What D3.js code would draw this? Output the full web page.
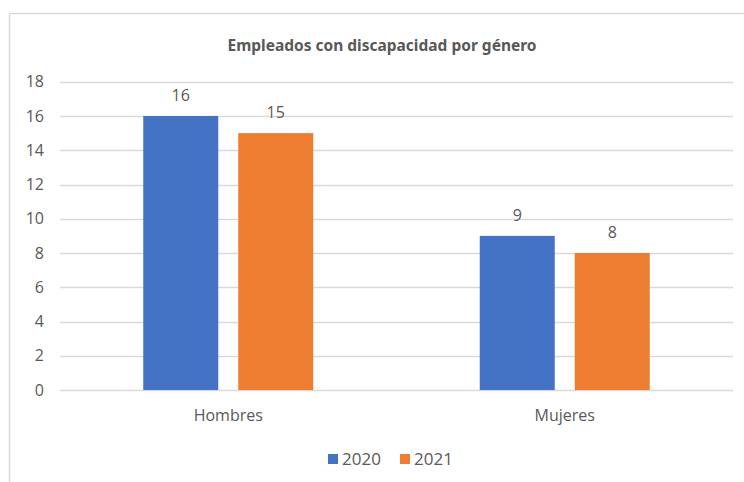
<!DOCTYPE html>
<html>
<head>
<meta charset="utf-8">
<script src="https://cdn.jsdelivr.net/npm/d3@7"></script>
<style>
  body { margin: 0; background: #fff; }
  text { font-family: "Open Sans", sans-serif; fill: #595959; }
</style>
</head>
<body>
<div id="chart"></div>
<script>
// chart values
const categories = ["Hombres", "Mujeres"];
const seriesNames = ["2020", "2021"];
const values2020 = [16, 9];
const values2021 = [15, 8];
const yTicks = [0, 2, 4, 6, 8, 10, 12, 14, 16, 18];
const colors = ["#4472C4", "#ED7D31"];

const width = 744, height = 482;
const plot = {left: 60, right: 733, top: 81.75, bottom: 390};

const svg = d3.select("#chart")
    .append("svg")
    .attr("width", width)
    .attr("height", height);

// outer chart frame (cropped at right & bottom like the source)
svg.append("rect")
    .attr("x", 9.5).attr("y", 13.5)
    .attr("width", 800).attr("height", 600)
    .attr("fill", "none")
    .attr("stroke", "#d9d9d9")
    .attr("stroke-width", 1.5);

svg.append("text")
    .attr("x", 382)
    .attr("y", 51)
    .attr("text-anchor", "middle")
    .style("font-family", "'Noto Sans', sans-serif")
    .style("font-weight", "bold")
    .style("font-size", "15.5px")
    .text("Empleados con discapacidad por género");

var y = d3.scaleLinear()
    .domain([0, 18])
    .range([plot.bottom, plot.top]);

var x0 = d3.scaleBand()
    .domain(categories)
    .range([plot.left, plot.right])
    .padding(0);

// bars take 170px of each 336px slot, gap of 20px between the two
var groupW = 170;
var x1 = d3.scaleBand()
    .domain(seriesNames)
    .range([(x0.bandwidth() - groupW) / 2, (x0.bandwidth() + groupW) / 2])
    .paddingInner(0.2105);

// gridlines
svg.append("g")
    .selectAll("line")
    .data(yTicks)
    .enter()
    .append("line")
    .attr("x1", plot.left)
    .attr("x2", plot.right)
    .attr("y1", function(d) { return Math.round(y(d)) + 0.5; })
    .attr("y2", function(d) { return Math.round(y(d)) + 0.5; })
    .attr("stroke", "#d9d9d9")
    .attr("stroke-width", 1.5);

// y axis labels
var yAxis = svg.append("g")
    .attr("transform", "translate(" + (plot.left - 16) + ",0)")
    .call(d3.axisLeft(y).tickValues(yTicks).tickSize(0).tickPadding(0));
yAxis.select(".domain").remove();
yAxis.selectAll("text")
    .style("font-size", "16px")
    .attr("fill", "#595959");

var rows = categories.map(function(c, i) {
    return {cat: c, vals: [
        {s: seriesNames[0], v: values2020[i], c: colors[0]},
        {s: seriesNames[1], v: values2021[i], c: colors[1]}
    ]};
});

var groups = svg.selectAll(".grp")
    .data(rows)
    .enter()
    .append("g")
    .attr("class", "grp")
    .attr("transform", function(d) { return "translate(" + x0(d.cat) + ",0)"; });

groups.selectAll("rect")
    .data(function(d) { return d.vals; })
    .enter()
    .append("rect")
    .attr("x", function(d) { return x1(d.s); })
    .attr("width", x1.bandwidth())
    .attr("y", function(d) { return y(d.v); })
    .attr("height", function(d) { return y(0) - y(d.v); })
    .attr("fill", function(d) { return d.c; });

// data labels
groups.selectAll(".lbl")
    .data(function(d) { return d.vals; })
    .enter()
    .append("text")
    .attr("class", "lbl")
    .attr("x", function(d) { return x1(d.s) + x1.bandwidth() / 2; })
    .attr("y", function(d) { return y(d.v) - 15; })
    .attr("text-anchor", "middle")
    .style("font-size", "16px")
    .text(function(d) { return d.v; });

// category axis
var xAxis = svg.append("g")
    .attr("transform", "translate(0," + plot.bottom + ")")
    .call(d3.axisBottom(x0).tickSize(0).tickPadding(20));
xAxis.select(".domain").remove();
xAxis.selectAll("text")
    .style("font-size", "16px")
    .attr("fill", "#595959");

// legend
var legend = svg.append("g")
    .attr("transform", "translate(328,454)");
var li = legend.selectAll("g")
    .data(seriesNames)
    .enter()
    .append("g")
    .attr("transform", function(d, i) { return "translate(" + (i * 72) + ",0)"; });
li.append("rect")
    .attr("width", 10).attr("height", 10)
    .attr("fill", function(d, i) { return colors[i]; });
li.append("text")
    .attr("x", 14)
    .attr("y", 11)
    .style("font-size", "17px")
    .text(function(d) { return d; });
</script>
</body>
</html>
